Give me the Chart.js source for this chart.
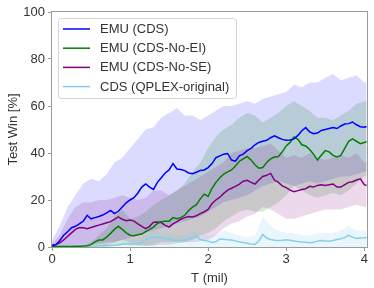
<!DOCTYPE html>
<html>
<head>
<meta charset="utf-8">
<script src="https://cdn.jsdelivr.net/npm/chart.js@4.4.1/dist/chart.umd.min.js"></script>
<style>
html,body{margin:0;padding:0;background:#fff;}
#wrap{width:374px;height:288px;}
</style>
</head>
<body>
<div id="wrap"><canvas id="c" width="374" height="288"></canvas></div>
<script>
// ---- data ----
const seriesNames = ["EMU (CDS)", "EMU (CDS-No-EI)", "EMU (CDS-No-SE)", "CDS (QPLEX-original)"];
const xTicks = [0, 1, 2, 3, 4];
const yTicks = [0, 20, 40, 60, 80, 100];

// time steps (million) for the mean curves
const T = [0,0.05,0.1,0.15,0.2,0.25,0.3,0.35,0.4,0.45,
0.5,0.55,0.6,0.65,0.7,0.75,0.8,0.85,0.9,0.95,
1.0,1.05,1.1,1.15,1.2,1.25,1.3,1.35,1.4,1.45,
1.5,1.55,1.6,1.65,1.7,1.75,1.8,1.85,1.9,1.95,
2.0,2.05,2.1,2.15,2.2,2.25,2.3,2.35,2.4,2.45,
2.5,2.55,2.6,2.65,2.7,2.75,2.8,2.85,2.9,2.95,
3.0,3.05,3.1,3.15,3.2,3.25,3.3,3.35,3.4,3.45,
3.5,3.55,3.6,3.65,3.7,3.75,3.8,3.85,3.9,3.95,
4.0,4.03];

const emuCds = [0.5,1.0,2.8,5,6.5,8.2,8.8,9.8,11,13.5,
12,12.5,13,13.6,14.5,15.6,14.2,15.2,17,18.8,
20,21,23,25.5,26.8,25.5,24.5,27.5,29.5,31.5,
32.8,35.5,33.2,33,32.5,31.5,31.2,31.8,32.6,32.8,
33.8,35.5,38,38.8,39.5,39.8,37,36.5,38.8,39.5,
41,42,43.5,44.5,45,45.4,46.5,47.3,46.5,45.8,
45.4,45.5,46,47.5,49.5,50.8,49,48.2,48.5,49.6,
50,50.4,50.8,50.4,51.5,52.3,52.5,53.2,52,51.2,
51,51.3];

const emuNoEI = [0.2,0.2,0.2,0.2,0.2,0.2,0.3,0.3,0.4,0.5,
1.0,2.2,3.0,3.0,4.2,5.8,7.5,8.8,7.5,6.0,
5.0,4.8,5.2,5.5,6.5,7.5,8.5,10,10.8,11,
11,12.5,12,12.5,13.5,15.5,17,18,20.5,22.5,
21.5,25,27.5,29.5,31,32,32.8,34.5,36.5,37.5,
38.5,37,35,33.5,33.8,36,37.5,38.3,38.5,40.5,
43,44.5,46.8,45.8,43.5,43,41.5,39.5,37,39,
41,40.5,39,38.3,39,42,45,46,45,44,
44.5,44.8];

const emuNoSE = [0.7,1.0,1.8,3,4.5,6,7.5,8.3,8.2,7.8,
8.3,8.8,9.3,9.8,10.3,10.8,11.8,12.8,11.8,11.2,
11.5,11,9.8,8.8,7.8,8.8,10.5,10.6,10.4,9.2,
8.5,9.8,10.8,11.8,12.5,13,12.8,13.3,14.2,15,
16,18.5,20,21.2,22.8,24.2,25,25.8,26.8,28,
28.4,27.5,26.8,28.5,30,30.5,31.3,28.5,27.5,26,
25.3,24.2,23.5,24,24.5,24.8,25.8,25.5,26.2,26.5,
26.2,26.5,26.8,25.5,25.5,26.5,27.5,27.8,28.5,29,
26.5,26.2];

const cdsQplex = [0.3,0.3,0.3,0.3,0.3,0.3,0.3,0.3,0.3,0.3,
0.3,0.4,0.5,0.5,0.6,0.6,0.7,0.9,1.2,1.4,
1.5,1.4,1.3,1.8,3.2,3.8,4.0,4.2,4.0,3.6,
3.4,3.0,2.8,2.9,3.0,3.3,4.2,4.6,3.2,2.8,
2.5,1.9,2.2,3.4,3.3,3.1,3.0,2.6,2.1,1.9,
1.6,1.3,1.1,2.5,5.3,3.8,3.2,2.9,2.8,2.9,
3.1,2.9,2.6,2.3,2.1,2.0,1.8,2.0,2.5,2.8,
2.6,2.5,2.8,3.2,3.5,4.0,5.0,4.2,3.6,3.8,
3.9,4.0];

// time steps for the shaded spread bands
const Tb = [0,0.1,0.2,0.3,0.4,0.5,0.6,0.7,0.8,0.9,
1.0,1.1,1.2,1.3,1.4,1.5,1.6,1.7,1.8,1.9,
2.0,2.1,2.2,2.3,2.4,2.5,2.6,2.7,2.8,2.9,
3.0,3.1,3.2,3.3,3.4,3.5,3.6,3.7,3.8,3.9,
4.0,4.03];

const emuCdsHi = [3,9,17,22,27,29,28,31,36,38,
42,46,50,51,55,57,59,56,56,54,
56,58,60,60,61,62,61,63,64,65,
66,69,68,70,70,72,73.5,71,72,73,
70,70];
const emuCdsLo = [0,0,0,0.5,1,1,1.5,2,2,3,
4,5,6,7,8,9,10,11,12,13,
15,17,19,20,21,22,24,26,27,28,
27,26,27,28,27,28,29,30,30,31,
32,32];

const emuNoEIHi = [0.5,0.5,0.5,0.6,0.8,2,5,8,13,16,
12,13,15,18,20,22,24,27,32,36,
42,47,50,52,55,57,56,53,55,57,
60,62,60,58,55,55,54,56,58,61,
62,62];
const emuNoEILo = [0,0,0,0,0,0,0,0,0.5,1,
0.5,0.5,0.5,1,2,2,2,2,3,5,
6,8,11,13,15,16,15,15,17,19,
22,26,24,22,21,22,23,22,24,27,
30,30];

const emuNoSEHi = [1.5,5,12,17,19,19,20,20,21,22,
21,20,21,24,24,22,24,26,28,30,
32,34,36,40,41,42,42,43,44,41,
38,39,38,40,38,37,38,39,38,40,
36,36];
const emuNoSELo = [0,0,0.5,1,1,1,1,1,2,3,
2,1,0.5,0.5,1,1,1.5,2,2,2.5,
3,5,8,10,11,13,14,17,16,14,
12,12,13,14,15,16,16,16,17,18,
17,17];

const cdsQplexHi = [0.8,0.8,0.8,0.8,0.8,0.8,1,1.2,1.5,2.5,
3,3,5,7,6,6,5,5,7,6,
5,5,7,6,5,4,5,13,9,7,
6,6,5,5,6,6,6,7,9,7,
7,7];
const cdsQplexLo = [0,0,0,0,0,0,0,0,0,0,
0,0,0,0,0,0,0,0,0,0,
0,0,0,0,0,0,0,0,0,0,
0,0,0,0,0,0,0,0,0,0,
0,0];

// ---- styling ----
const lineColors = ["#0000ff", "#008000", "#800080", "#87ceeb"];
const bandColors = ["rgba(40,40,255,0.17)", "rgba(0,128,0,0.16)", "rgba(128,0,128,0.15)", "rgba(135,206,235,0.18)"];
const FONT = '"Liberation Sans", Arial, Helvetica, sans-serif';
const TXT = '#333333';

const pts = (xs, ys) => ys.map((v, i) => ({x: xs[i], y: v}));

const means = [emuCds, emuNoEI, emuNoSE, cdsQplex];
const his = [emuCdsHi, emuNoEIHi, emuNoSEHi, cdsQplexHi];
const los = [emuCdsLo, emuNoEILo, emuNoSELo, cdsQplexLo];

const datasets = [];
means.forEach((m, i) => {
  datasets.push({
    label: seriesNames[i], data: pts(T, m), borderColor: lineColors[i],
    borderWidth: 1.5, pointRadius: 0, fill: false, tension: 0, order: 0
  });
});
his.forEach((h, i) => {
  const idx = datasets.length;
  datasets.push({
    label: 'band' + i, data: pts(Tb, h), borderWidth: 0, borderColor: 'rgba(0,0,0,0)',
    backgroundColor: bandColors[i], pointRadius: 0, fill: {target: idx + 1}, tension: 0, order: 10 - i
  });
  datasets.push({
    label: 'bandlo' + i, data: pts(Tb, los[i]), borderWidth: 0, borderColor: 'rgba(0,0,0,0)',
    pointRadius: 0, fill: false, tension: 0, order: 10 - i
  });
});

const framePlugin = {
  id: 'frame',
  afterDatasetsDraw(chart) {
    const a = chart.chartArea, ctx = chart.ctx;
    ctx.save();
    ctx.strokeStyle = '#9a9a9a';
    ctx.lineWidth = 1;
    ctx.strokeRect(Math.round(a.left) - 0.5, Math.round(a.top) - 0.5,
                   Math.round(a.right - a.left) + 1, Math.round(a.bottom - a.top) + 1);
    ctx.restore();
  }
};

const legendPlugin = {
  id: 'boxLegend',
  afterDraw(chart) {
    const ctx = chart.ctx;
    ctx.save();
    const x0 = 58.5, y0 = 18.5, w = 178, h = 80;
    ctx.beginPath();
    ctx.roundRect(x0, y0, w, h, 3);
    ctx.fillStyle = 'rgba(255,255,255,0.8)';
    ctx.fill();
    ctx.strokeStyle = '#d5d5d5';
    ctx.lineWidth = 1;
    ctx.stroke();
    ctx.font = '13px ' + FONT;
    ctx.textBaseline = 'middle';
    seriesNames.forEach((name, i) => {
      const y = 29 + i * 19.2;
      ctx.strokeStyle = lineColors[i];
      ctx.lineWidth = 1.5;
      ctx.beginPath();
      ctx.moveTo(63, y);
      ctx.lineTo(90, y);
      ctx.stroke();
      ctx.fillStyle = TXT;
      ctx.fillText(name, 100, y + 0.5);
    });
    ctx.restore();
  }
};

new Chart(document.getElementById('c'), {
  type: 'line',
  data: { datasets },
  options: {
    responsive: false,
    animation: false,
    layout: { padding: { top: 12, right: 7, left: 0, bottom: 0 } },
    plugins: { legend: { display: false }, tooltip: { enabled: false } },
    scales: {
      x: {
        type: 'linear', min: 0, max: 4.035,
        afterBuildTicks: s => { s.ticks = xTicks.map(v => ({value: v})); },
        afterFit: s => { s.height = 41; },
        ticks: { color: TXT, font: { family: FONT, size: 13 }, padding: 1, maxRotation: 0,
                 callback: v => String(v) },
        grid: { drawOnChartArea: false, drawTicks: true, tickLength: 4, color: '#9a9a9a' },
        border: { display: false },
        title: { display: true, text: 'T (mil)', color: TXT, font: { family: FONT, size: 13 }, padding: { top: 0, bottom: 2 } }
      },
      y: {
        min: 0, max: 100,
        afterBuildTicks: s => { s.ticks = yTicks.map(v => ({value: v})); },
        afterFit: s => { s.width = 52; },
        ticks: { color: TXT, font: { family: FONT, size: 13 }, padding: 3, callback: v => String(v) },
        grid: { drawOnChartArea: false, drawTicks: true, tickLength: 4, color: '#9a9a9a' },
        border: { display: false },
        title: { display: true, text: 'Test Win [%]', color: TXT, font: { family: FONT, size: 13 }, padding: { top: 6, bottom: 0 } }
      }
    }
  },
  plugins: [framePlugin, legendPlugin]
});
</script>
</body>
</html>
